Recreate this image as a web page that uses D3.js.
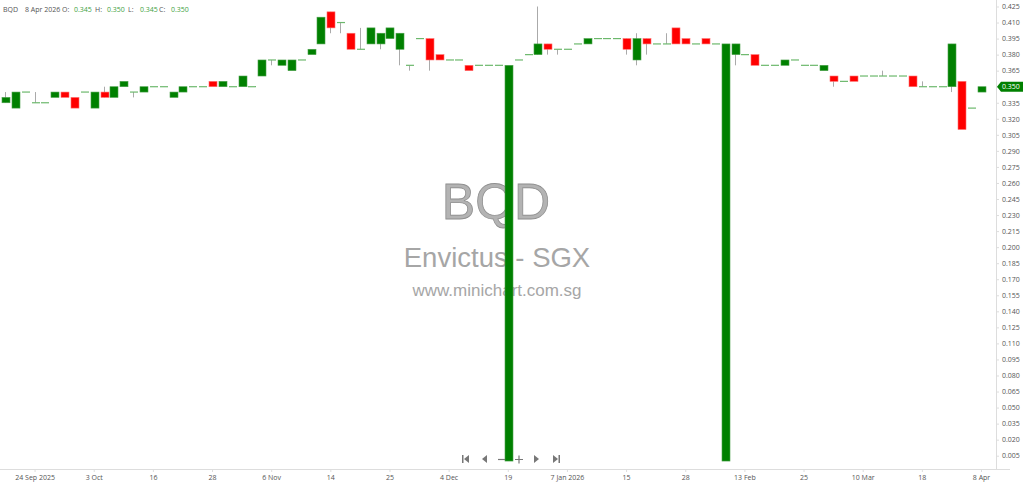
<head>
    <meta charset="utf-8">
    <script src="https://d3js.org/d3.v7.min.js"></script>
    <style>
        body {
            margin: 0;
            background: #fff;
            font-family: "Open Sans", "Noto Sans", sans-serif;
        }
        .axis text { fill: #555; }
        .axis path, .axis line { stroke: #ddd; }
    </style>
</head>

<body>

<svg width="1024" height="484"></svg>

<script>

    // one candle per trading session (index 0..99)
    var open = [
        0.335, 0.330, 0.345, 0.335, 0.335, 0.340, 0.345, 0.340, 0.345, 0.330,
        0.345, 0.340, 0.350, 0.345, 0.345, 0.350, 0.350, 0.340, 0.345, 0.350,
        0.350, 0.355, 0.350, 0.350, 0.350, 0.350, 0.360, 0.375, 0.370, 0.365,
        0.375, 0.380, 0.390, 0.420, 0.410, 0.400, 0.385, 0.390, 0.390, 0.395,
        0.385, 0.370, 0.395, 0.395, 0.380, 0.375, 0.375, 0.370, 0.370, 0.370,
        0.370, 0.000, 0.375, 0.380, 0.380, 0.390, 0.385, 0.385, 0.390, 0.390,
        0.395, 0.395, 0.395, 0.395, 0.375, 0.395, 0.390, 0.390, 0.405, 0.395,
        0.390, 0.395, 0.390, 0.000, 0.380, 0.380, 0.380, 0.370, 0.370, 0.370,
        0.375, 0.370, 0.370, 0.365, 0.360, 0.355, 0.360, 0.360, 0.360, 0.360,
        0.360, 0.360, 0.360, 0.350, 0.350, 0.350, 0.350, 0.355, 0.330, 0.345
    ];
    var high = [
        0.345, 0.345, 0.345, 0.345, 0.335, 0.345, 0.345, 0.340, 0.345, 0.345,
        0.350, 0.350, 0.355, 0.345, 0.350, 0.350, 0.350, 0.345, 0.350, 0.350,
        0.350, 0.355, 0.355, 0.350, 0.360, 0.350, 0.375, 0.375, 0.375, 0.375,
        0.375, 0.385, 0.415, 0.420, 0.410, 0.400, 0.405, 0.405, 0.400, 0.405,
        0.400, 0.370, 0.395, 0.395, 0.380, 0.375, 0.375, 0.370, 0.370, 0.370,
        0.370, 0.370, 0.375, 0.380, 0.425, 0.390, 0.385, 0.385, 0.390, 0.395,
        0.395, 0.395, 0.395, 0.395, 0.400, 0.395, 0.390, 0.400, 0.405, 0.395,
        0.390, 0.395, 0.390, 0.390, 0.390, 0.380, 0.380, 0.370, 0.370, 0.375,
        0.375, 0.370, 0.370, 0.370, 0.360, 0.355, 0.360, 0.360, 0.360, 0.365,
        0.360, 0.360, 0.360, 0.355, 0.350, 0.350, 0.390, 0.355, 0.330, 0.350
    ];
    var low = [
        0.335, 0.330, 0.345, 0.335, 0.335, 0.340, 0.340, 0.330, 0.345, 0.330,
        0.340, 0.340, 0.350, 0.340, 0.345, 0.350, 0.350, 0.340, 0.345, 0.350,
        0.350, 0.350, 0.350, 0.350, 0.350, 0.350, 0.360, 0.370, 0.370, 0.365,
        0.375, 0.380, 0.390, 0.400, 0.400, 0.385, 0.385, 0.390, 0.385, 0.395,
        0.370, 0.365, 0.395, 0.365, 0.375, 0.375, 0.375, 0.365, 0.370, 0.370,
        0.370, 0.000, 0.375, 0.380, 0.380, 0.380, 0.380, 0.385, 0.390, 0.390,
        0.395, 0.395, 0.395, 0.380, 0.370, 0.380, 0.390, 0.390, 0.390, 0.390,
        0.390, 0.390, 0.390, 0.000, 0.370, 0.380, 0.370, 0.370, 0.370, 0.370,
        0.375, 0.370, 0.370, 0.365, 0.350, 0.355, 0.355, 0.360, 0.360, 0.360,
        0.360, 0.360, 0.350, 0.350, 0.350, 0.350, 0.345, 0.310, 0.330, 0.345
    ];
    var close = [
        0.340, 0.345, 0.345, 0.335, 0.335, 0.345, 0.340, 0.330, 0.345, 0.345,
        0.340, 0.350, 0.355, 0.345, 0.350, 0.350, 0.350, 0.345, 0.350, 0.350,
        0.350, 0.350, 0.355, 0.350, 0.360, 0.350, 0.375, 0.375, 0.375, 0.375,
        0.375, 0.385, 0.415, 0.405, 0.410, 0.385, 0.385, 0.405, 0.400, 0.405,
        0.400, 0.370, 0.395, 0.375, 0.375, 0.375, 0.375, 0.365, 0.370, 0.370,
        0.370, 0.370, 0.375, 0.380, 0.390, 0.385, 0.385, 0.385, 0.390, 0.395,
        0.395, 0.395, 0.395, 0.385, 0.395, 0.390, 0.390, 0.390, 0.390, 0.390,
        0.390, 0.390, 0.390, 0.390, 0.390, 0.380, 0.370, 0.370, 0.370, 0.375,
        0.375, 0.370, 0.370, 0.370, 0.355, 0.355, 0.355, 0.360, 0.360, 0.360,
        0.360, 0.360, 0.350, 0.350, 0.350, 0.350, 0.390, 0.310, 0.330, 0.350
    ];

    // date labels every 6th session
    var tickIndex = [3, 9, 15, 21, 27, 33, 39, 45, 51, 57, 63, 69, 75, 81, 87, 93, 99];
    var tickLabels = ["24 Sep 2025", "3 Oct", "16", "28", "6 Nov", "14", "25", "4 Dec", "19",
        "7 Jan 2026", "15", "28", "13 Feb", "25", "10 Mar", "18", "8 Apr"];

    var priceTicks = d3.range(29).map(i => 0.005 + i * 0.015);

    var header = {code: "BQD", date: "8 Apr 2026"};
    var last = {o: 0.345, h: 0.350, l: 0.345, c: 0.350};

    var data = open.map((o, i) => ({i: i, o: o, h: high[i], l: low[i], c: close[i]}));

    //
    // scales
    //

    var svg = d3.select("svg"),
        plotRight = 996,
        plotBottom = 469;

    var x = d3.scaleLinear().domain([0, 99]).range([5, 981]);
    var y = d3.scaleLinear().domain([0.005, 0.425]).range([455.7, 6.5]);

    var green = "#008000", red = "#ff0000", wick = "#aaa", flat = "#6cb86c";

    //
    // watermark
    //

    var wm = svg.append("g").attr("text-anchor", "middle")
        .style("font-family", "Arial, 'Liberation Sans', sans-serif");

    wm.append("text").attr("x", 496).attr("y", 219)
        .attr("font-size", 50).attr("fill", "#b3b3b3").attr("stroke", "#8f8f8f")
        .attr("stroke-width", 0.8).text(header.code);
    wm.append("text").attr("x", 497).attr("y", 267)
        .attr("font-size", 27.5).attr("fill", "#a6a6a6").text("Envictus - SGX");
    wm.append("text").attr("x", 497).attr("y", 296)
        .attr("font-size", 17).attr("fill", "#a6a6a6").text("www.minichart.com.sg");

    //
    // navigation buttons
    //

    var nav = svg.append("g").attr("fill", "#777").attr("stroke", "#777");
    nav.append("path").attr("stroke", "none").attr("d", "M462,455v8h1.5v-8z M469,455l-5,4l5,4z");
    nav.append("path").attr("stroke", "none").attr("d", "M487,455l-5,4l5,4z");
    nav.append("path").attr("stroke-width", 1.2).attr("d", "M498,459.5h8");
    nav.append("path").attr("stroke-width", 1.2).attr("d", "M515,459.5h8 M519,455.5v8");
    nav.append("path").attr("stroke", "none").attr("d", "M534,455l5,4l-5,4z");
    nav.append("path").attr("stroke", "none").attr("d", "M553,455l5,4l-5,4z M558.5,455v8h1.5v-8z");

    //
    // candles
    //

    var candles = svg.append("g").selectAll("g")
        .data(data)
        .enter().append("g");

    candles.filter(d => d.h > Math.max(d.o, d.c) || d.l < Math.min(d.o, d.c))
        .append("line")
        .attr("x1", d => Math.round(x(d.i)) + 0.5)
        .attr("x2", d => Math.round(x(d.i)) + 0.5)
        .attr("y1", d => y(d.h))
        .attr("y2", d => y(d.l))
        .attr("stroke", wick);

    candles.filter(d => d.o != d.c)
        .append("rect")
        .attr("x", d => Math.round(x(d.i)) - 3)
        .attr("width", 8)
        .attr("y", d => y(Math.max(d.o, d.c)))
        .attr("height", d => Math.abs(y(d.o) - y(d.c)))
        .attr("fill", d => d.c > d.o ? green : red)
        .attr("stroke", d => d.c > d.o ? "#4aa04a" : "#ff7070")
        .attr("stroke-width", 0.6);

    candles.filter(d => d.o == d.c)
        .append("line")
        .attr("x1", d => Math.round(x(d.i)) - 3)
        .attr("x2", d => Math.round(x(d.i)) + 5)
        .attr("y1", d => y(d.c))
        .attr("y2", d => y(d.c))
        .attr("stroke", flat)
        .attr("stroke-width", 1.2);

    //
    // axes
    //

    var yAxis = svg.append("g")
        .attr("class", "axis")
        .attr("transform", "translate(" + plotRight + ",0)")
        .call(d3.axisRight(y).tickValues(priceTicks).tickFormat(d3.format(".3f"))
            .tickSize(3).tickSizeOuter(0).tickPadding(3))
        .style("font-size", "7px")
        .style("font-family", "'Open Sans', sans-serif");
    yAxis.select(".domain").attr("d", "M0.5,0V" + plotBottom);

    var xAxis = svg.append("g")
        .attr("class", "axis")
        .attr("transform", "translate(0," + plotBottom + ")")
        .call(d3.axisBottom(x).tickValues(tickIndex).tickFormat((d, i) => tickLabels[i])
            .tickSize(3).tickSizeOuter(0).tickPadding(3))
        .style("font-size", "7px")
        .style("font-family", "'Open Sans', sans-serif");
    xAxis.select(".domain").attr("d", "M0,0.5H1010");

    //
    // last price tag
    //

    var ty = y(last.c);
    svg.append("path")
        .attr("d", "M" + (plotRight + 1) + "," + ty + "l4,-5h22v10h-22z")
        .attr("fill", green);
    svg.append("text")
        .attr("x", plotRight + 6).attr("y", ty + 2.6)
        .attr("font-size", 7).attr("fill", "#fff")
        .style("font-family", "'Open Sans', sans-serif")
        .text(d3.format(".3f")(last.c));

    //
    // header
    //

    var ht = svg.append("text").attr("x", 3).attr("y", 12)
        .style("font-size", "7px").attr("fill", "#555")
        .style("font-family", "'Open Sans', sans-serif");
    ht.append("tspan").text(header.code);
    ht.append("tspan").attr("x", 25).text(header.date);
    [["O:", last.o, 62], ["H:", last.h, 95], ["L:", last.l, 128], ["C:", last.c, 159]].forEach(function(p) {
        ht.append("tspan").attr("x", p[2]).text(p[0]);
        ht.append("tspan").attr("x", p[2] + 12).attr("fill", "#3f9f3f").text(d3.format(".3f")(p[1]));
    });

</script>
</body>
